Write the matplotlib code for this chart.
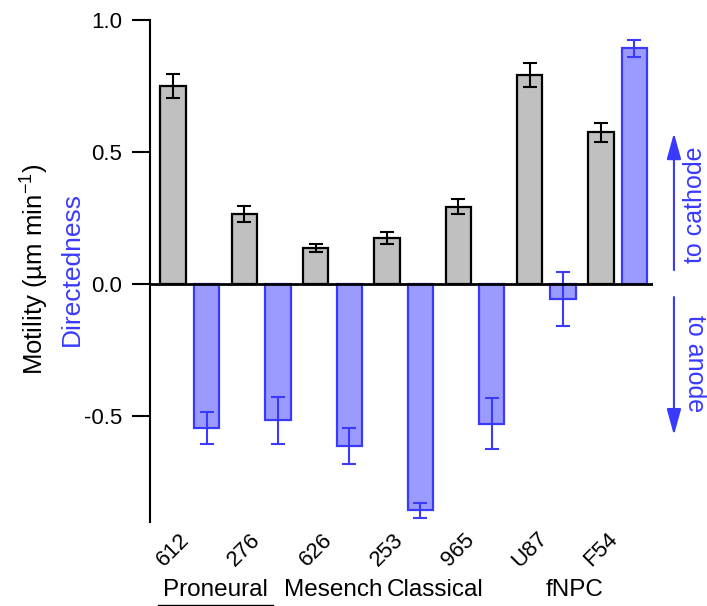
import matplotlib.pyplot as plt
import matplotlib.transforms as mtransforms
import numpy as np

plt.rcParams['font.family'] = ['Liberation Sans', 'DejaVu Sans']
plt.rcParams['mathtext.fontset'] = 'custom'
plt.rcParams['mathtext.rm'] = 'Liberation Sans'
plt.rcParams['mathtext.it'] = 'Liberation Sans:italic'
plt.rcParams['axes.unicode_minus'] = False

# cell lines and values
lines = ["612", "276", "626", "253", "965", "U87", "F54"]
motility = [0.75, 0.265, 0.135, 0.175, 0.293, 0.792, 0.575]
motility_err = [0.045, 0.031, 0.015, 0.024, 0.028, 0.045, 0.036]
directedness = [-0.545, -0.516, -0.614, -0.856, -0.528, -0.057, 0.893]
directedness_err = [0.06, 0.088, 0.068, 0.028, 0.097, 0.102, 0.033]
groups = ["Proneural", "Mesench", "Classical", "fNPC"]

blue = "#3a3aff"
blue_fill = "#9b9bff"
gray_fill = "#c0c0c0"

fig = plt.figure(figsize=(7.07, 6.06), dpi=100)
ax = fig.add_axes([0.212, 0.139, 0.712, 0.828])

x = np.arange(len(lines))
off = 0.235
w = 0.355

ax.bar(x - off, motility, w, color=gray_fill, edgecolor="black", linewidth=1.6, zorder=2)
ax.errorbar(x - off, motility, yerr=motility_err, fmt="none", ecolor="black",
            elinewidth=1.5, capsize=4.7, capthick=1.5, zorder=3)
ax.bar(x + off, directedness, w, color=blue_fill, edgecolor=blue, linewidth=1.6, zorder=2)
ax.errorbar(x + off, directedness, yerr=directedness_err, fmt="none", ecolor=blue,
            elinewidth=1.5, capsize=4.7, capthick=1.5, zorder=3)

ax.axhline(0, color="black", linewidth=2, zorder=4)

ax.set_xlim(-0.56, 6.5)
ax.set_ylim(-0.9, 1.0)
for s in ["top", "right", "bottom"]:
    ax.spines[s].set_visible(False)
ax.spines["left"].set_linewidth(1.5)
ax.set_yticks([1.0, 0.5, 0.0, -0.5])
ax.set_yticklabels(["1.0", "0.5", "0.0", "-0.5"])
ax.tick_params(axis="y", length=13, width=1.5, labelsize=16, pad=7)
ax.set_xticks([])

# rotated cell line names under the gray bars
trans = mtransforms.blended_transform_factory(ax.transData, fig.transFigure)
for xi, name in zip(x - off, lines):
    ax.text(xi, 1 - 550 / 606, name, rotation=45, fontsize=16, ha="center",
            va="center", transform=trans, clip_on=False)

# y labels, black and blue
fig.text(0.050, 0.556, r"Motility (µm min$^{-1}$)", rotation=90, fontsize=18.5,
         ha="center", va="center")
fig.text(0.101, 0.556, "Directedness", rotation=90, fontsize=19, color=blue,
         ha="center", va="center")

# arrows to the right
arrow = dict(arrowstyle="-|>,head_length=0.8,head_width=0.22", color=blue, lw=1.5,
             mutation_scale=20, shrinkA=0, shrinkB=0)
ax.annotate("", xy=(6.79, 0.572), xytext=(6.79, 0.053), arrowprops=arrow,
            annotation_clip=False)
ax.annotate("", xy=(6.79, -0.572), xytext=(6.79, -0.049), arrowprops=arrow,
            annotation_clip=False)
ax.text(7.09, 0.30, "to cathode", rotation=90, color=blue, fontsize=18,
        ha="center", va="center", clip_on=False)
ax.text(7.09, -0.30, "to anode", rotation=270, color=blue, fontsize=18,
        ha="center", va="center", clip_on=False)

# group names under the tick labels
group_x = [215, 333, 435, 575]
for g, gx in zip(groups, group_x):
    fig.text(gx / 707, 1 - 590 / 606, g, fontsize=17.5, ha="center", va="center")
fig.add_artist(plt.Line2D([158 / 707, 273 / 707], [1 - 605 / 606, 1 - 605 / 606],
                          color="black", linewidth=1))

fig.savefig("out.png", dpi=100)
